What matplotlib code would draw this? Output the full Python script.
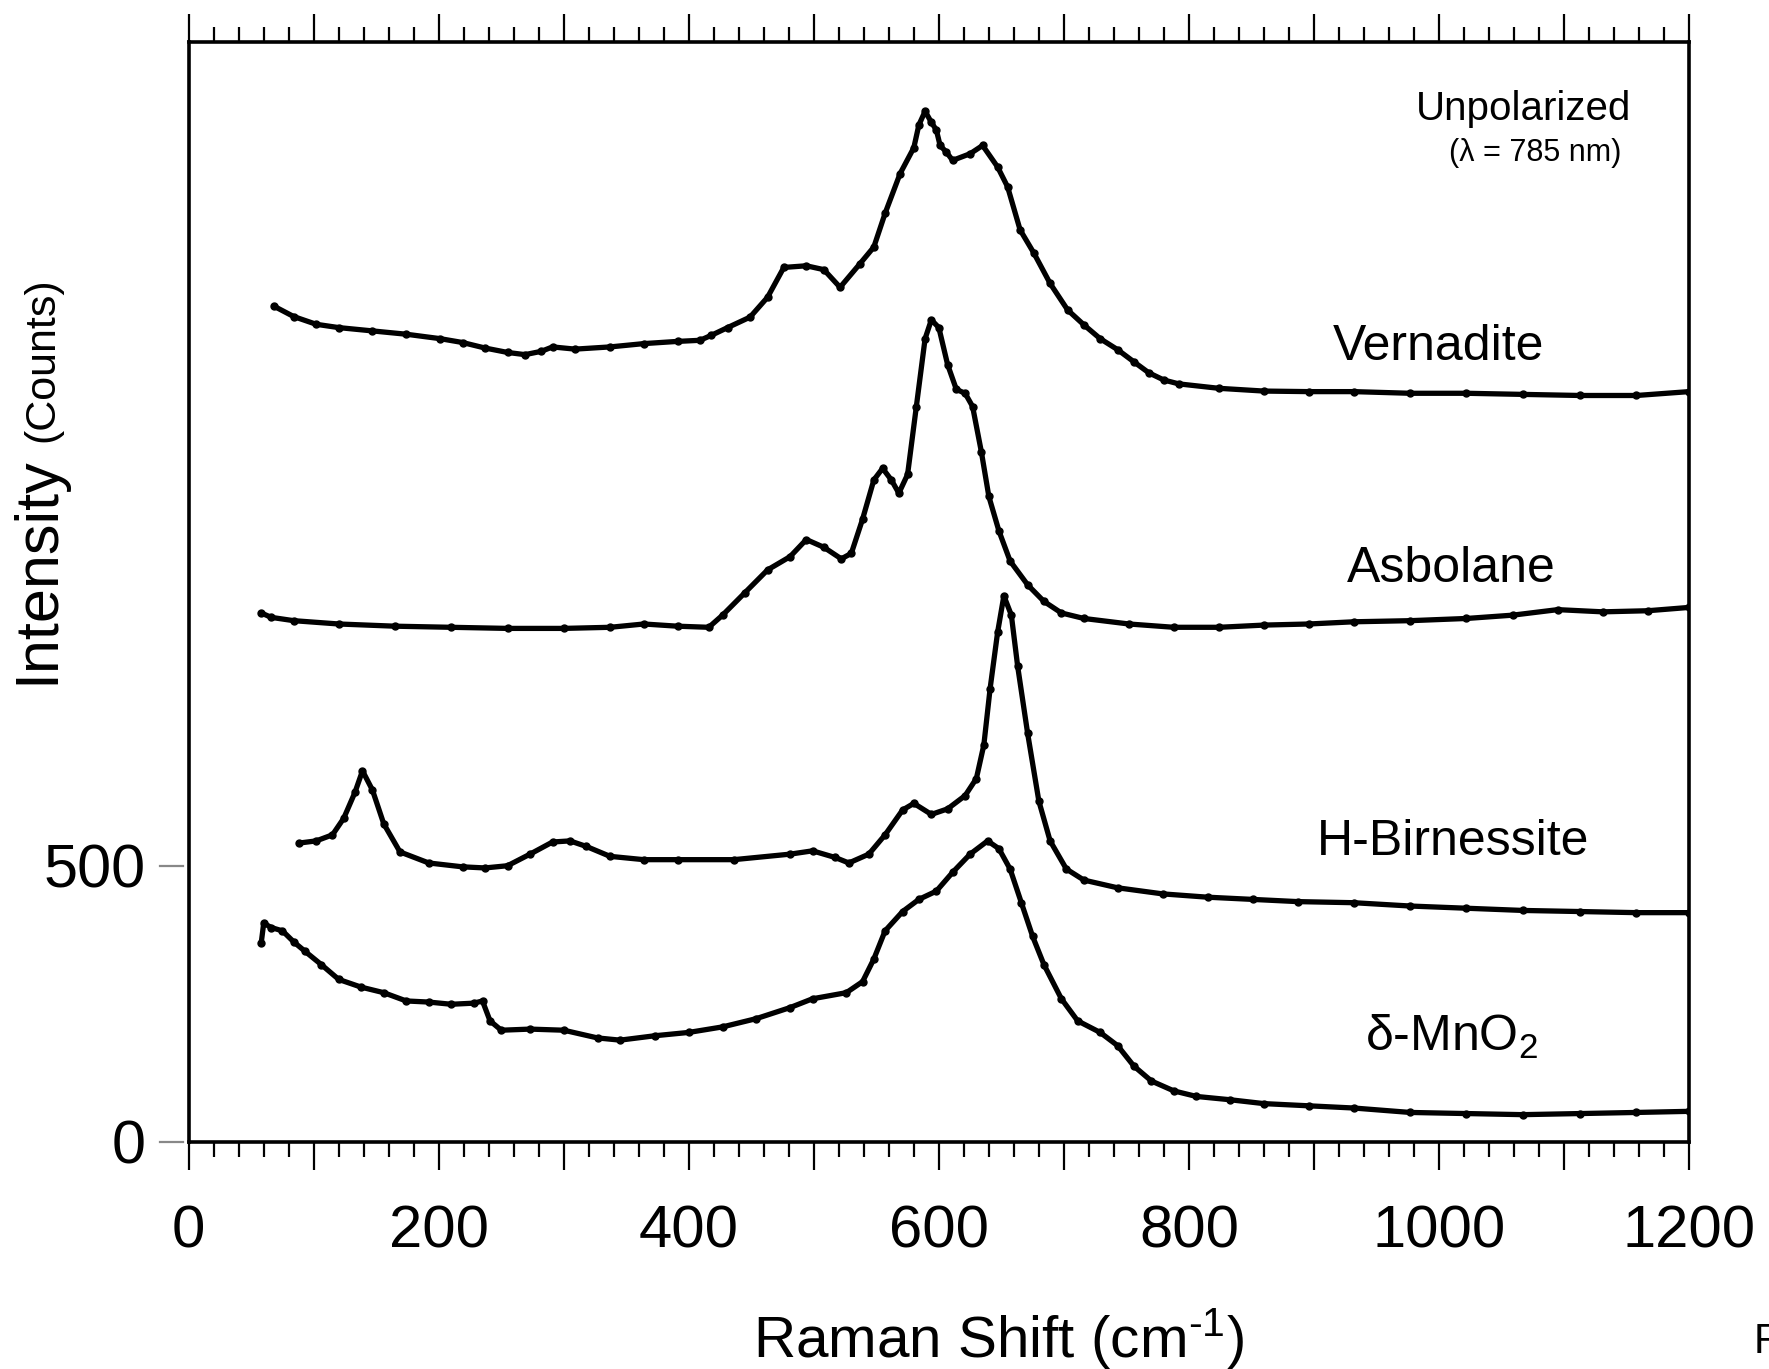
import matplotlib
matplotlib.use("Agg")
import matplotlib.pyplot as plt
from matplotlib.ticker import MultipleLocator, FuncFormatter

plt.rcParams['font.family'] = ['Liberation Sans', 'DejaVu Sans']
plt.rcParams['mathtext.fontset'] = 'custom'
plt.rcParams['mathtext.rm'] = 'Liberation Sans'
plt.rcParams['mathtext.it'] = 'Liberation Sans'

# ---------------- data ----------------
vern_x = [68, 84, 102, 120, 147, 174, 201, 219, 237, 255, 269, 282, 291, 309, 337, 364,
          391, 409, 418, 431, 449, 463, 476, 494, 508, 521, 537, 548, 557, 569, 580, 584,
          589, 594, 598, 601, 606, 611, 625, 635, 647, 655, 665, 676, 689, 703, 716, 729,
          743, 756, 768, 780, 792, 824, 860, 896, 932, 977, 1022, 1067, 1113, 1158, 1200]
vern_y = [1514, 1495, 1481, 1475, 1469, 1463, 1455, 1448, 1438, 1430, 1426, 1432, 1440, 1436, 1440, 1446,
          1450, 1452, 1461, 1475, 1494, 1530, 1584, 1587, 1580, 1548, 1591, 1621, 1682, 1754, 1801, 1842,
          1867, 1847, 1833, 1805, 1793, 1778, 1790, 1805, 1766, 1730, 1652, 1610, 1555, 1507, 1480, 1455,
          1435, 1413, 1393, 1380, 1373, 1365, 1360, 1359, 1359, 1356, 1356, 1354, 1352, 1352, 1359]

asb_x = [58, 66, 84, 120, 165, 210, 255, 300, 337, 364, 391, 416, 427, 445, 463, 481, 494, 508,
         522, 530, 539, 548, 555, 562, 568, 575, 582, 589, 594, 600, 607, 614, 621, 627, 634, 640,
         648, 657, 671, 684, 698, 716, 752, 788, 824, 860, 896, 932, 977, 1022, 1059, 1095, 1131,
         1167, 1200]
asb_y = [958, 950, 944, 938, 934, 932, 930, 930, 932, 938, 934, 932, 954, 995, 1036, 1060, 1091, 1077,
         1056, 1066, 1128, 1199, 1220, 1199, 1175, 1209, 1332, 1455, 1489, 1475, 1408, 1363, 1356, 1332, 1250, 1169,
         1107, 1052, 1009, 979, 958, 948, 938, 932, 932, 936, 938, 942, 944, 948, 954, 964, 960,
         962, 968]

hbir_x = [88, 102, 115, 124, 133, 139, 147, 156, 169, 192, 219, 237, 255, 273, 291, 305, 318, 337,
          364, 391, 436, 481, 499, 517, 528, 544, 557, 571, 580, 594, 607, 621, 630, 636, 641, 647,
          652, 658, 663, 671, 680, 689, 702, 716, 743, 779, 815, 851, 887, 932, 977, 1022, 1067,
          1113, 1158, 1200]
hbir_y = [541, 545, 556, 586, 633, 672, 637, 576, 525, 505, 498, 496, 500, 521, 543, 545, 535, 517,
          511, 511, 511, 521, 527, 515, 505, 521, 556, 601, 613, 593, 603, 627, 658, 719, 821, 923,
          989, 954, 862, 740, 617, 545, 494, 474, 460, 449, 443, 439, 435, 433, 427, 423, 419,
          417, 415, 415]

dmno_x = [58, 60, 66, 75, 84, 93, 106, 120, 138, 156, 174, 192, 210, 228, 235, 241, 250, 273,
          300, 327, 345, 373, 400, 427, 454, 481, 499, 526, 539, 548, 557, 571, 584, 598, 611, 625,
          639, 648, 657, 666, 675, 684, 698, 711, 729, 743, 756, 770, 788, 806, 833, 860, 896,
          932, 977, 1022, 1067, 1113, 1158, 1200]
dmno_y = [360, 396, 388, 382, 362, 345, 321, 294, 280, 270, 255, 253, 249, 251, 255, 219, 202, 204,
          202, 188, 184, 192, 198, 208, 223, 243, 259, 270, 290, 331, 382, 417, 439, 454, 488, 521,
          545, 531, 494, 433, 372, 321, 259, 219, 198, 174, 137, 110, 92, 82, 76, 69, 65,
          61, 53, 51, 49, 51, 53, 55]

series = [(vern_x, vern_y), (asb_x, asb_y), (hbir_x, hbir_y), (dmno_x, dmno_y)]

labels = ["Vernadite", "Asbolane", "H-Birnessite", "δ-MnO$_\\mathregular{2}$"]
label_pos = [(1000, 1440), (1010, 1037), (1011, 543), (1010, 190)]

x_ticklabels = [0, 200, 400, 600, 800, 1000, 1200]
y_ticks = [0, 500]

# ---------------- figure ----------------
W, H = 1769, 1369
fig = plt.figure(figsize=(W / 100, H / 100), dpi=100)
ax = fig.add_axes([188.7 / W, 1 - 1141.7 / H, (1689 - 188.7) / W, (1141.7 - 41.7) / H])

for xs, ys in series:
    ax.plot(xs, ys, color='black', lw=3.8, marker='o', ms=5, mec='black', mfc='black',
            solid_joinstyle='round', solid_capstyle='round')

ax.set_xlim(0, 1200)
ax.set_ylim(0, 1993)

for s in ax.spines.values():
    s.set_linewidth(2.6)

ax.xaxis.set_major_locator(MultipleLocator(100))
ax.xaxis.set_minor_locator(MultipleLocator(20))
ax.xaxis.set_major_formatter(FuncFormatter(
    lambda v, p: f"{int(round(v))}" if int(round(v)) in x_ticklabels else ""))
ax.tick_params(axis='x', which='major', direction='out', length=20, width=1.6,
               top=True, bottom=True, labelsize=43, pad=25)
ax.tick_params(axis='x', which='minor', direction='out', length=10.5, width=1.6,
               top=True, bottom=True)

ax.set_yticks(y_ticks)
ax.set_yticklabels([str(v) for v in y_ticks])
ax.tick_params(axis='y', which='both', length=0, labelsize=44, pad=31)
ytr = ax.get_yaxis_transform()
for v in y_ticks:
    ax.plot([-0.0193, -0.0040], [v, v], transform=ytr, color='#888888', lw=1.6,
            clip_on=False)

for lab, (lx, ly) in zip(labels, label_pos):
    ax.text(lx, ly, lab, fontsize=36, ha='center', va='center')

fig.text(1524 / W, 1 - 120 / H, "Unpolarized", fontsize=29, ha='center', va='baseline')
fig.text(1535 / W, 1 - 153 / H, "(λ = 785 nm)", fontsize=22, ha='center', va='center')

fig.text(998 / W, 1 - 1357 / H, r"Raman Shift (cm$^{\text{-1}}$)", fontsize=42,
         ha='center', va='baseline')
fig.text(53 / W, 1 - 684 / H, "Intensity", fontsize=44, rotation=90, rotation_mode='anchor',
         ha='left', va='baseline')
fig.text(53 / W, 1 - 442 / H, "(Counts)", fontsize=31, rotation=90, rotation_mode='anchor',
         ha='left', va='baseline')
fig.text(1754 / W, 1 - 1342 / H, "F", fontsize=30, ha='left', va='center')

fig.savefig("out.png", dpi=100)
